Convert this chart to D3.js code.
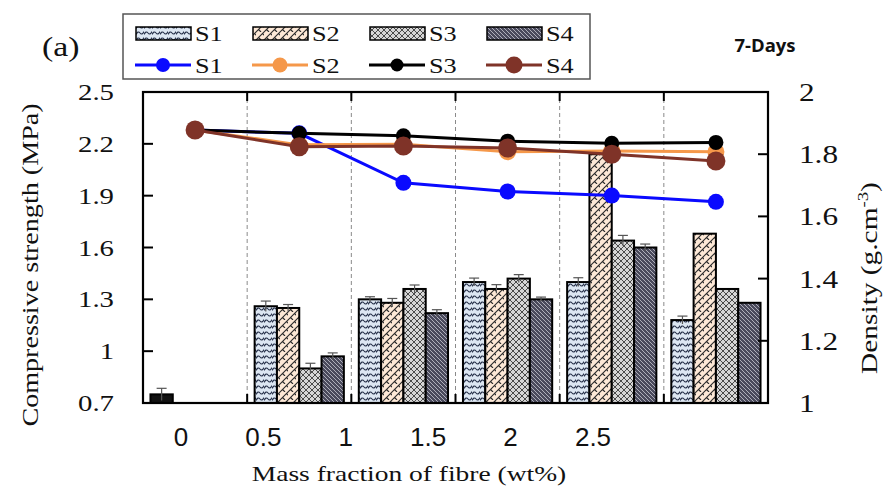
<!DOCTYPE html>
<html><head><meta charset="utf-8">
<script src="https://cdn.jsdelivr.net/npm/d3@7"></script>
<style>body{margin:0;background:#fff}svg{display:block}</style>
</head><body>
<svg id="c" width="888" height="491"></svg>
<script>
// ---- data ----
const categories = ["0","0.5","1","1.5","2","2.5"];
const seriesNames = ["S1","S2","S3","S4"];
const strengthS1 = [0.75, 1.26, 1.30, 1.40, 1.40, 1.18];
const strengthS2 = [null, 1.25, 1.28, 1.36, 2.14, 1.68];
const strengthS3 = [null, 0.90, 1.36, 1.42, 1.64, 1.36];
const strengthS4 = [null, 0.97, 1.22, 1.30, 1.60, 1.28];
const errS1 = [0.035, 0.03, 0.015, 0.023, 0.025, 0.023];
const errS2 = [0, 0.02, 0.025, 0.025, 0, 0];
const errS3 = [0, 0.03, 0.023, 0.023, 0.03, 0];
const errS4 = [0, 0.02, 0.02, 0.013, 0.02, 0];
const densityS1 = [1.878, 1.867, 1.708, 1.680, 1.667, 1.647];
const densityS2 = [1.878, 1.830, 1.832, 1.808, 1.810, 1.808];
const densityS3 = [1.878, 1.867, 1.859, 1.842, 1.835, 1.838];
const densityS4 = [1.878, 1.824, 1.826, 1.820, 1.800, 1.778];
const leftTicks = [0.7, 1, 1.3, 1.6, 1.9, 2.2, 2.5];
const leftTickLabels = ["0.7","1","1.3","1.6","1.9","2.2","2.5"];
const rightTicks = [1, 1.2, 1.4, 1.6, 1.8, 2];
const rightTickLabels = ["1","1.2","1.4","1.6","1.8","2"];

const strength = [strengthS1, strengthS2, strengthS3, strengthS4];
const errs = [errS1, errS2, errS3, errS4];
const density = [densityS1, densityS2, densityS3, densityS4];

// ---- layout ----
const svg = d3.select("#c");
const L = 143, R = 768, T = 92, B = 403;
const SERIF = "'Liberation Serif','Times New Roman',serif";
const SX = 1.25; // horizontal stretch of serif text

const x = d3.scaleBand().domain(categories).range([L, R]).padding(0);
const xs = d3.scaleBand().domain(seriesNames).range([0, x.bandwidth()]).paddingInner(0).paddingOuter(0.335);
const xLab = d3.scalePoint().domain(categories).range([181, 593]);
const yL = d3.scaleLinear().domain([0.7, 2.5]).range([B, T]);
const yR = d3.scaleLinear().domain([1, 2]).range([B, T]);

// ---- patterns ----
const defs = svg.append("defs");
function pat(id, w, h, bg, d, stroke, sw) {
  const p = defs.append("pattern").attr("id", id).attr("patternUnits", "userSpaceOnUse")
    .attr("width", w).attr("height", h);
  p.append("rect").attr("width", w).attr("height", h).attr("fill", bg);
  p.append("path").attr("d", d).attr("stroke", stroke).attr("stroke-width", sw).attr("fill", "none");
}
pat("p1", 8, 6, "#dce6f2", "M0,4.5 Q2,0.5 4,3 T8,1.5", "#27314a", 1.1);
pat("p2", 8, 8, "#fde8d6", "M0,8 L8,0 M-4,4 L4,-4 M4,12 L12,4 M2.5,5.5 L5,8 M6.5,1.5 L9,4", "#2a2a2a", 1.1);
pat("p3", 6, 6, "#d6d6d6", "M0,0 L6,6 M6,0 L0,6", "#4a4a4a", 1);
pat("p4", 4, 4, "#4a4a5c", "M0,0 L4,4 M-1,3 L1,5 M3,-1 L5,1", "#c9c9d2", 0.8);
const fills = ["url(#p1)", "url(#p2)", "url(#p3)", "url(#p4)"];
const lineColors = ["#0a0aff", "#f5984a", "#000000", "#7f3328"];
const markerR = [8, 8.5, 7.5, 9.5];

// ---- separators ----
const bounds = categories.slice(1).map(c => x(c));
svg.append("g").selectAll("line").data(bounds).join("line")
  .attr("x1", d => d).attr("x2", d => d).attr("y1", T).attr("y2", B)
  .attr("stroke", "#8a8a8a").attr("stroke-width", 1).attr("stroke-dasharray", "4,3");

// ---- bars ----
const barData = [];
strength.forEach((arr, si) => arr.forEach((v, ci) => {
  if (v != null) barData.push({s: si, c: categories[ci], v, e: errs[si][ci]});
}));
const gb = svg.append("g");
gb.selectAll("rect").data(barData).join("rect")
  .attr("x", d => x(d.c) + xs(seriesNames[d.s]))
  .attr("width", xs.bandwidth())
  .attr("y", d => yL(d.v))
  .attr("height", d => B - yL(d.v))
  .attr("fill", d => d.c === "0" ? "#111" : fills[d.s])
  .attr("stroke", "#000").attr("stroke-width", 2);
const eb = barData.filter(d => d.e > 0);
const ge = svg.append("g").attr("stroke", "#555").attr("stroke-width", 1.2);
eb.forEach(d => {
  const cx = x(d.c) + xs(seriesNames[d.s]) + xs.bandwidth() / 2;
  ge.append("line").attr("x1", cx).attr("x2", cx).attr("y1", yL(d.v - d.e)).attr("y2", yL(d.v + d.e));
  ge.append("line").attr("x1", cx - 5).attr("x2", cx + 5).attr("y1", yL(d.v + d.e)).attr("y2", yL(d.v + d.e));
});

// ---- lines ----
const lineGen = d3.line().x((d, i) => x(categories[i]) + x.bandwidth() / 2).y(d => yR(d));
density.forEach((arr, si) => {
  const g = svg.append("g");
  g.append("path").attr("d", lineGen(arr)).attr("fill", "none")
    .attr("stroke", lineColors[si]).attr("stroke-width", 3);
  g.selectAll("circle").data(arr).join("circle")
    .attr("cx", (d, i) => x(categories[i]) + x.bandwidth() / 2)
    .attr("cy", d => yR(d)).attr("r", markerR[si]).attr("fill", lineColors[si]);
});

// ---- frame & ticks ----
svg.append("rect").attr("x", L).attr("y", T).attr("width", R - L).attr("height", B - T)
  .attr("fill", "none").attr("stroke", "#000").attr("stroke-width", 2.2);
const gt = svg.append("g").attr("stroke", "#000").attr("stroke-width", 2);
leftTicks.forEach(v => gt.append("line").attr("x1", L).attr("x2", L + 10).attr("y1", yL(v)).attr("y2", yL(v)));
rightTicks.forEach(v => gt.append("line").attr("x1", R - 10).attr("x2", R).attr("y1", yR(v)).attr("y2", yR(v)));
bounds.forEach(b => {
  gt.append("line").attr("x1", b).attr("x2", b).attr("y1", T).attr("y2", T + 9);
  gt.append("line").attr("x1", b).attr("x2", b).attr("y1", B - 9).attr("y2", B);
});

// ---- tick labels ----
function stext(xp, yp, txt, size, anchor, rot) {
  const t = svg.append("text")
    .attr("transform", `translate(${xp},${yp})` + (rot ? ` rotate(${rot})` : "") + ` scale(${SX},1)`)
    .attr("font-family", SERIF).attr("font-size", size).attr("fill", "#111")
    .attr("text-anchor", anchor || "start");
  t.text(txt);
  return t;
}
leftTicks.forEach((v, i) => stext(114, yL(v) + 8, leftTickLabels[i], 23, "end"));
rightTicks.forEach((v, i) => stext(799, yR(v) + 9, rightTickLabels[i], 25, "start"));
svg.append("g").selectAll("text").data(categories).join("text")
  .attr("x", d => xLab(d)).attr("y", 446)
  .attr("text-anchor", "middle").attr("font-family", "'Liberation Sans',Arial,sans-serif")
  .attr("font-size", 26).attr("fill", "#111").text(d => d);

// ---- axis titles ----
stext(409, 481, "Mass fraction of fibre (wt%)", 22, "middle");
stext(38, 265, "Compressive strength (MPa)", 22.5, "middle", -90);
const dt = stext(877, 278, "", 23.5, "middle", -90);
dt.append("tspan").text("Density (g.cm");
dt.append("tspan").attr("font-size", 15).attr("dy", -9).text("-3");
dt.append("tspan").attr("dy", 9).text(")");
stext(42, 56, "(a)", 27, "start");
svg.append("text").attr("x", 765).attr("y", 52).attr("text-anchor", "middle")
  .attr("font-family", "'Open Sans',sans-serif").attr("font-weight", 700).attr("font-size", 18.5)
  .attr("fill", "#111").text("7-Days");

// ---- legend ----
const lg = svg.append("g");
lg.append("rect").attr("x", 123).attr("y", 14).attr("width", 467).attr("height", 65)
  .attr("fill", "#fff").attr("stroke", "#555").attr("stroke-width", 1.5);
const legX = d3.scalePoint().domain(seriesNames).range([136, 487]);
seriesNames.forEach((s, i) => {
  const x0 = legX(s);
  lg.append("rect").attr("x", x0).attr("y", 27).attr("width", 55).attr("height", 13)
    .attr("fill", fills[i]).attr("stroke", "#000").attr("stroke-width", 1.5);
  stext(x0 + 59, 41, s, 21, "start");
  lg.append("line").attr("x1", x0 - 1).attr("x2", x0 + 55).attr("y1", 65).attr("y2", 65)
    .attr("stroke", lineColors[i]).attr("stroke-width", 3);
  lg.append("circle").attr("cx", x0 + 27).attr("cy", 65).attr("r", markerR[i] - 1).attr("fill", lineColors[i]);
  stext(x0 + 59, 73, s, 21, "start");
});
</script>
</body></html>
